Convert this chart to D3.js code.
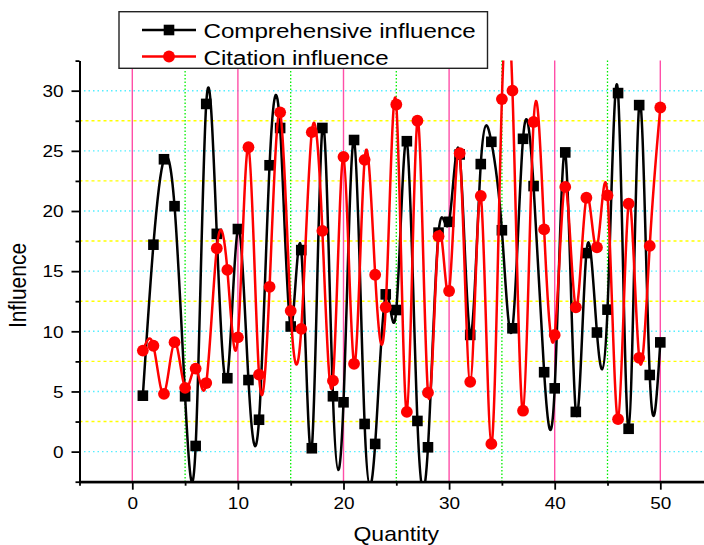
<!DOCTYPE html>
<html>

<head>
    <meta charset=utf-8 />
    <script src="https://cdn.jsdelivr.net/npm/d3@7"></script>
    <title>influence</title>
    <style>
        html,
        body {
            margin: 0;
            padding: 0;
            background: #fff;
        }

        svg {
            display: block;
            font-family: "Liberation Sans", Arial, sans-serif;
        }
    </style>
</head>

<body>
    <div id="svg-canvas"></div>
    <script>
        // quantity values on the x axis
        var quantity = [1, 2, 3, 4, 5, 6, 7, 8, 9, 10, 11, 12, 13, 14, 15, 16, 17, 18, 19, 20,
            21, 22, 23, 24, 25, 26, 27, 28, 29, 30, 31, 32, 33, 34, 35, 36, 37, 38, 39, 40,
            41, 42, 43, 44, 45, 46, 47, 48, 49, 50];

        var comprehensive = [4.65, 17.2, 24.3, 20.4, 4.6, 0.47, 28.9, 18.1, 6.1, 18.5,
            5.95, 2.65, 23.8, 26.9, 10.4, 16.75, 0.28, 26.9, 4.6, 4.1,
            25.9, 2.3, 0.64, 13.07, 11.77, 25.8, 2.55, 0.36, 18.2, 19.1,
            24.7, 9.7, 23.9, 25.75, 18.4, 10.25, 26.0, 22.07, 6.6, 5.26,
            24.87, 3.3, 16.5, 9.9, 11.8, 29.8, 1.9, 28.8, 6.37, 9.08];

        var citation = [8.4, 8.8, 4.8, 9.1, 5.3, 6.9, 5.7, 16.9, 15.1, 9.5,
            25.3, 6.4, 13.7, 28.2, 11.7, 10.2, 26.55, 18.35, 5.9, 24.5,
            7.3, 24.25, 14.7, 12.0, 28.85, 3.3, 27.5, 4.9, 17.9, 13.35,
            24.8, 5.8, 21.25, 0.64, 29.3, 30.0, 3.4, 27.4, 18.47, 9.7,
            22.0, 12.0, 21.1, 16.97, 21.3, 2.7, 20.6, 7.8, 17.1, 28.6];

        var seriesNames = ['Comprehensive influence', 'Citation influence'];

        var xMajor = [0, 10, 20, 30, 40, 50];
        var xMinor = [-5, 5, 15, 25, 35, 45, 55];
        var yMajor = [0, 5, 10, 15, 20, 25, 30];
        var yMinor = [-2.5, 2.5, 7.5, 12.5, 17.5, 22.5, 27.5, 32.5];
    </script>
    <script>
        var W = 704, H = 545;
        var stretch = 1.15; // text in the picture is a bit wide

        var svg = d3.select('#svg-canvas').append('svg')
            .attr('width', W)
            .attr('height', H)

        var x = d3.scaleLinear().domain([-5, 55]).range([79.5, 713.1]);
        var y = d3.scaleLinear().domain([-2.5, 32.5]).range([481.7, 60.6]);
        var top_ = y(32.5), bottom = y(-2.5), left = x(-5);

        // grid
        var grid = svg.append('g').attr('class', 'grid')

        grid.selectAll('.hminor').data(yMinor.filter(d => d > -2.5 && d < 32.5))
            .enter().append('line')
            .attr('x1', left).attr('x2', W)
            .attr('y1', d => y(d)).attr('y2', d => y(d))
            .attr('stroke', '#ffff00')
            .attr('stroke-width', 1.4)
            .attr('stroke-dasharray', '3,3')

        grid.selectAll('.hmajor').data(yMajor)
            .enter().append('line')
            .attr('x1', left).attr('x2', W)
            .attr('y1', d => y(d)).attr('y2', d => y(d))
            .attr('stroke', '#55eeff')
            .attr('stroke-width', 1.4)
            .attr('stroke-dasharray', '1.5,3')

        grid.selectAll('.vminor').data(xMinor.filter(d => d > -5 && d < 55))
            .enter().append('line')
            .attr('x1', d => x(d)).attr('x2', d => x(d))
            .attr('y1', top_).attr('y2', bottom)
            .attr('stroke', '#00ee00')
            .attr('stroke-width', 1.3)
            .attr('stroke-dasharray', '1.5,2')

        grid.selectAll('.vmajor').data(xMajor)
            .enter().append('line')
            .attr('x1', d => x(d)).attr('x2', d => x(d))
            .attr('y1', top_).attr('y2', bottom)
            .attr('stroke', '#ff4fa8')
            .attr('stroke-width', 1.4)

        // curves
        svg.append('clipPath').attr('id', 'plot-clip')
            .append('rect')
            .attr('x', left).attr('y', top_)
            .attr('width', W - left).attr('height', bottom - top_)

        var series = [
            { name: seriesNames[0], values: comprehensive, color: '#000000', marker: 'square' },
            { name: seriesNames[1], values: citation, color: '#ff0000', marker: 'circle' }
        ];

        var line = d3.line()
            .x((d, i) => x(quantity[i]))
            .y(d => y(d))
            .curve(d3.curveNatural)

        function drawMarker(g, shape, color) {
            if (shape == 'square') {
                g.append('rect')
                    .attr('x', -5.3).attr('y', -5.3)
                    .attr('width', 10.6).attr('height', 10.6)
                    .attr('fill', color)
            } else {
                g.append('circle')
                    .attr('r', 5.9)
                    .attr('fill', color)
            }
        }

        series.forEach(function (s) {
            var g = svg.append('g').attr('class', 'series')
            g.append('path')
                .datum(s.values)
                .attr('clip-path', 'url(#plot-clip)')
                .attr('d', line)
                .attr('fill', 'none')
                .attr('stroke', s.color)
                .attr('stroke-width', 2.5)
            g.selectAll('.pt').data(s.values)
                .enter().append('g')
                .attr('transform', (d, i) => `translate(${x(quantity[i])},${y(d)})`)
                .each(function () { drawMarker(d3.select(this), s.marker, s.color) })
        })

        // axes
        var axisX = svg.append('g')
            .attr('transform', `translate(0,${bottom})`)
            .call(d3.axisBottom(x).tickValues(xMajor).tickSize(8).tickSizeOuter(0).tickPadding(7))
        axisX.append('g')
            .call(d3.axisBottom(x).tickValues(xMinor).tickSize(4).tickSizeOuter(0).tickFormat(''))
        axisX.append('line')
            .attr('x1', left).attr('x2', W).attr('stroke', '#000').attr('stroke-width', 2)

        var axisY = svg.append('g')
            .attr('transform', `translate(${left},0)`)
            .call(d3.axisLeft(y).tickValues(yMajor).tickSize(8).tickSizeOuter(0))
        axisY.append('g')
            .call(d3.axisLeft(y).tickValues(yMinor).tickSize(4).tickSizeOuter(0).tickFormat(''))

        svg.selectAll('.domain').attr('stroke-width', 2)
        svg.selectAll('.tick line').attr('stroke-width', 1.8)

        axisX.selectAll('.tick text')
            .attr('font-size', 16.5)
            .attr('fill', '#000')
            .attr('y', null).attr('dy', null)
            .attr('text-anchor', 'middle')
            .attr('transform', `translate(0,27) scale(${stretch},1)`)

        axisY.selectAll('.tick text')
            .attr('font-size', 16.5)
            .attr('fill', '#000')
            .attr('x', null).attr('dy', '0.35em')
            .attr('transform', `translate(-16,0) scale(${stretch},1)`)

        // axis titles
        svg.append('text')
            .attr('transform', `translate(${x(25)},541) scale(${stretch},1)`)
            .attr('text-anchor', 'middle')
            .attr('font-size', 20)
            .text('Quantity')

        svg.append('text')
            .attr('transform', `translate(26,285.5) scale(${stretch},1) rotate(-90)`)
            .attr('text-anchor', 'middle')
            .attr('font-size', 21)
            .text('Influence')

        // legend
        var legend = svg.append('g').attr('class', 'legend')
        legend.append('rect')
            .attr('x', 119).attr('y', 11.7)
            .attr('width', 368.5).attr('height', 56.6)
            .attr('fill', '#fff')
            .attr('stroke', '#222')
            .attr('stroke-width', 1.4)

        var rowY = [30, 56.5];
        series.forEach(function (s, i) {
            var row = legend.append('g').attr('transform', `translate(0,${rowY[i]})`)
            row.append('line')
                .attr('x1', 142).attr('x2', 196)
                .attr('stroke', s.color).attr('stroke-width', 2.5)
            drawMarker(row.append('g').attr('transform', 'translate(169,0)'), s.marker, s.color)
            row.append('text')
                .attr('transform', `translate(203.5,8) scale(${stretch},1)`)
                .attr('font-size', 21)
                .text(s.name)
        })
    </script>
</body>

</html>
